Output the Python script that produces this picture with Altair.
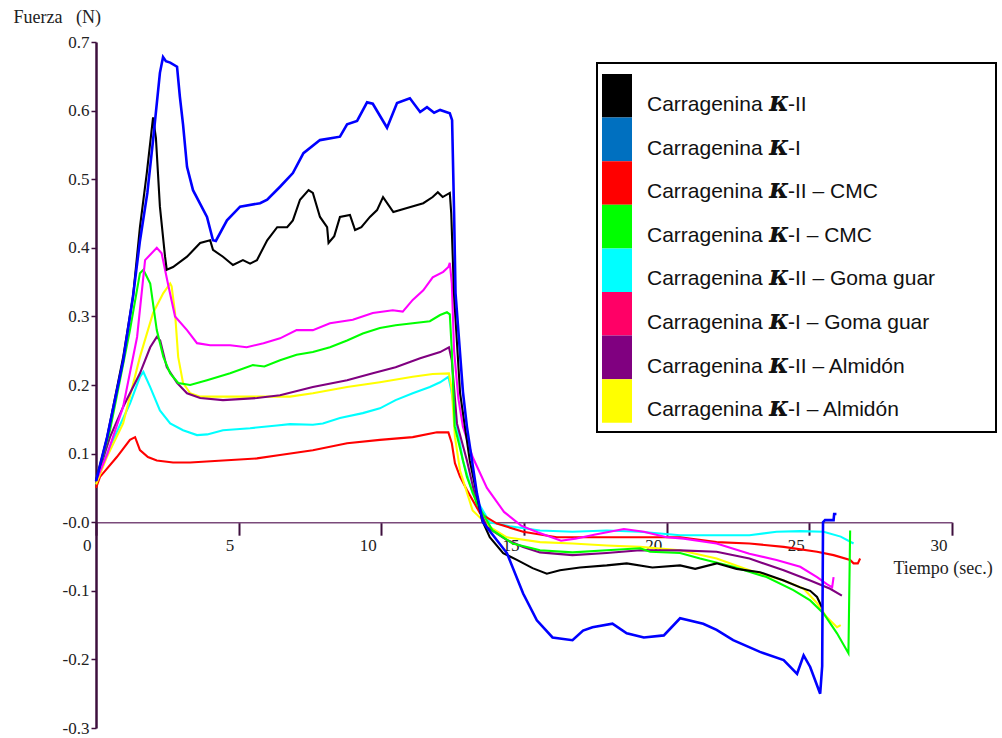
import altair as alt
import pandas as pd

# Series names and colours
SERIES = [
    "Carragenina κ-II",
    "Carragenina κ-I",
    "Carragenina κ-II – CMC",
    "Carragenina κ-I – CMC",
    "Carragenina κ-II – Goma guar",
    "Carragenina κ-I – Goma guar",
    "Carragenina κ-II – Almidón",
    "Carragenina κ-I – Almidón",
]
LINE_COLORS = ["#000000", "#0000ff", "#ff0000", "#00ff00",
               "#00ffff", "#ff00ff", "#800080", "#ffff00"]
SWATCH_COLORS = ["#000000", "#0070c0", "#ff0000", "#00ff00",
                 "#00ffff", "#ff0066", "#800080", "#ffff00"]
LEGEND_SUFFIX = ["-II", "-I", "-II – CMC", "-I – CMC",
                 "-II – Goma guar", "-I – Goma guar",
                 "-II – Almidón", "-I – Almidón"]

X_TICKS = [0, 5, 10, 15, 20, 25, 30]
Y_TICKS = [-0.3, -0.2, -0.1, 0.0, 0.1, 0.2, 0.3, 0.4, 0.5, 0.6, 0.7]

# Force (N) against time (s), one list of (t, F) per sample
K2 = [(0, 0.06), (0.39, 0.124), (0.95, 0.24), (1.3, 0.33), (1.54, 0.43), (1.78, 0.509),
      (2.0, 0.59), (2.1, 0.56), (2.24, 0.46), (2.42, 0.387), (2.48, 0.368), (2.7, 0.372),
      (3.19, 0.387), (3.65, 0.407), (4.0, 0.411), (4.1, 0.397), (4.45, 0.387), (4.8, 0.375),
      (5.15, 0.382), (5.4, 0.377), (5.64, 0.382), (6.0, 0.411), (6.35, 0.43), (6.7, 0.43),
      (6.9, 0.44), (7.15, 0.47), (7.45, 0.484), (7.6, 0.48), (7.85, 0.445), (8.1, 0.43),
      (8.15, 0.407), (8.35, 0.417), (8.55, 0.445), (8.9, 0.448), (9.08, 0.426), (9.3, 0.43),
      (9.6, 0.445), (9.85, 0.455), (10.06, 0.474), (10.42, 0.452), (10.9, 0.458),
      (11.47, 0.465), (11.8, 0.474), (11.98, 0.481), (12.15, 0.474), (12.4, 0.48),
      (12.45, 0.45), (12.55, 0.33), (12.76, 0.188), (13.1, 0.09), (13.53, 0.003),
      (13.8, -0.022), (14.27, -0.045), (14.75, -0.055), (15.3, -0.067), (15.8, -0.075),
      (16.26, -0.07), (16.96, -0.066), (17.9, -0.063), (18.6, -0.06), (19.5, -0.066),
      (20.47, -0.063), (21.0, -0.068), (21.75, -0.06), (22.45, -0.068), (23.27, -0.073),
      (24.1, -0.085), (24.68, -0.095), (25.03, -0.1), (25.27, -0.109), (25.44, -0.124)]

K1 = [(0, 0.06), (0.39, 0.124), (0.95, 0.235), (1.3, 0.33), (1.54, 0.41), (1.8, 0.48),
      (2.0, 0.557), (2.24, 0.655), (2.35, 0.678), (2.45, 0.672), (2.6, 0.67), (2.84, 0.664),
      (2.94, 0.62), (3.05, 0.58), (3.19, 0.518), (3.4, 0.484), (3.89, 0.445), (4.1, 0.411),
      (4.2, 0.41), (4.59, 0.44), (5.05, 0.46), (5.75, 0.465), (6.0, 0.47), (6.45, 0.489),
      (6.9, 0.509), (7.27, 0.538), (7.85, 0.557), (8.55, 0.562), (8.8, 0.58), (9.15, 0.585),
      (9.5, 0.612), (9.7, 0.61), (10.2, 0.575), (10.55, 0.611), (11.0, 0.618), (11.36, 0.598),
      (11.6, 0.605), (11.85, 0.597), (12.06, 0.601), (12.4, 0.596), (12.48, 0.586),
      (12.55, 0.45), (12.6, 0.334), (12.86, 0.19), (13.0, 0.139), (13.35, 0.042),
      (13.56, 0.0), (14.4, -0.045), (14.97, -0.104), (15.45, -0.143), (16.0, -0.168),
      (16.7, -0.172), (17.07, -0.158), (17.4, -0.153), (18.1, -0.148), (18.6, -0.162),
      (19.2, -0.168), (19.9, -0.165), (20.47, -0.14), (21.28, -0.148), (21.75, -0.157),
      (22.33, -0.172), (23.27, -0.189), (24.1, -0.201), (24.57, -0.221), (24.8, -0.194),
      (25.03, -0.211), (25.38, -0.25), (25.45, -0.21), (25.48, 0.0), (25.55, 0.003),
      (25.85, 0.003), (25.87, 0.012), (25.95, 0.012)]

K2_CMC = [(0, 0.05), (0.14, 0.066), (0.73, 0.095), (1.19, 0.12), (1.37, 0.124), (1.54, 0.105),
          (1.82, 0.095), (2.13, 0.09), (2.7, 0.087), (3.3, 0.087), (4.45, 0.09), (5.64, 0.093),
          (6.45, 0.098), (7.6, 0.105), (8.8, 0.115), (9.95, 0.12), (11.1, 0.124),
          (11.95, 0.131), (12.35, 0.131), (12.47, 0.115), (12.58, 0.086), (12.76, 0.066),
          (13.0, 0.047), (13.46, 0.013), (14.05, -0.002), (14.97, -0.014), (16.15, -0.022),
          (17.3, -0.022), (19.07, -0.022), (20.47, -0.022), (21.75, -0.029), (22.9, -0.031),
          (24.1, -0.036), (25.27, -0.043), (25.85, -0.048), (26.43, -0.055), (26.55, -0.06),
          (26.7, -0.06), (26.78, -0.053)]

K1_CMC = [(0, 0.06), (0.49, 0.134), (1.19, 0.28), (1.54, 0.363), (1.66, 0.368), (1.9, 0.348),
          (2.13, 0.28), (2.36, 0.241), (2.6, 0.217), (2.88, 0.203), (3.3, 0.2), (3.89, 0.207),
          (4.7, 0.217), (5.5, 0.229), (5.9, 0.227), (6.45, 0.236), (7.03, 0.244), (7.6, 0.248),
          (8.2, 0.255), (8.8, 0.265), (9.35, 0.275), (9.95, 0.283), (10.5, 0.287), (11.1, 0.29),
          (11.7, 0.293), (12.06, 0.302), (12.3, 0.306), (12.4, 0.303), (12.47, 0.25),
          (12.57, 0.14), (13.0, 0.066), (13.35, 0.027), (13.9, -0.012), (14.6, -0.031),
          (15.56, -0.041), (16.7, -0.044), (17.9, -0.041), (19.07, -0.038), (19.42, -0.043),
          (20.47, -0.045), (21.17, -0.053), (22.33, -0.065), (23.5, -0.08), (24.44, -0.099),
          (25.03, -0.114), (25.5, -0.133), (25.97, -0.162), (26.37, -0.191), (26.43, -0.012)]

K2_GUAR = [(0, 0.06), (0.49, 0.11), (1.19, 0.173), (1.54, 0.212), (1.66, 0.219), (1.9, 0.197),
           (2.24, 0.163), (2.6, 0.144), (3.05, 0.134), (3.54, 0.127), (3.9, 0.128),
           (4.45, 0.134), (5.4, 0.137), (6.34, 0.141), (6.8, 0.143), (7.6, 0.142),
           (7.95, 0.144), (8.55, 0.152), (9.35, 0.159), (9.95, 0.166), (10.5, 0.178),
           (11.1, 0.188), (11.7, 0.197), (12.06, 0.204), (12.35, 0.212), (12.45, 0.193),
           (12.65, 0.139), (12.86, 0.09), (13.2, 0.042), (13.8, 0.0), (14.5, -0.006),
           (15.56, -0.012), (16.7, -0.014), (17.9, -0.012), (19.07, -0.014), (20.47, -0.019),
           (21.75, -0.019), (22.9, -0.019), (23.85, -0.014), (24.68, -0.013), (25.5, -0.014),
           (26.1, -0.021), (26.55, -0.031)]

K1_GUAR = [(0, 0.06), (0.4, 0.1), (0.95, 0.168), (1.44, 0.27), (1.72, 0.382), (2.13, 0.4),
           (2.3, 0.392), (2.52, 0.348), (2.77, 0.3), (3.19, 0.28), (3.54, 0.261), (4.0, 0.258),
           (4.7, 0.258), (5.28, 0.255), (5.87, 0.261), (6.45, 0.268), (7.03, 0.28), (7.6, 0.28),
           (8.2, 0.29), (9.0, 0.295), (9.7, 0.305), (10.4, 0.309), (10.75, 0.307), (11.1, 0.324),
           (11.47, 0.338), (11.8, 0.357), (12.17, 0.365), (12.35, 0.372), (12.4, 0.378),
           (12.47, 0.348), (12.55, 0.25), (12.7, 0.18), (12.86, 0.139), (13.2, 0.095),
           (13.7, 0.05), (14.3, 0.015), (14.9, -0.005), (15.5, -0.015), (16.3, -0.027),
           (16.8, -0.024), (17.5, -0.018), (18.5, -0.01), (19.2, -0.014), (20.0, -0.022),
           (20.6, -0.024), (21.75, -0.031), (22.9, -0.046), (23.85, -0.055), (24.68, -0.065),
           (25.27, -0.08), (25.6, -0.09), (25.8, -0.095), (25.85, -0.08)]

K2_ALM = [(0, 0.06), (0.49, 0.124), (0.95, 0.168), (1.54, 0.217), (1.9, 0.255), (2.13, 0.27),
          (2.25, 0.265), (2.48, 0.226), (2.84, 0.203), (3.19, 0.188), (3.65, 0.181),
          (4.45, 0.178), (5.64, 0.181), (6.45, 0.185), (7.6, 0.197), (8.8, 0.207),
          (9.7, 0.217), (10.5, 0.226), (11.36, 0.239), (12.06, 0.248), (12.37, 0.255),
          (12.47, 0.236), (12.65, 0.144), (13.0, 0.09), (13.35, 0.027), (13.7, -0.007),
          (14.4, -0.026), (14.97, -0.036), (15.56, -0.044), (16.7, -0.048), (17.9, -0.045),
          (19.07, -0.041), (20.47, -0.041), (21.75, -0.043), (22.9, -0.053), (24.1, -0.07),
          (25.03, -0.085), (25.73, -0.097), (26.14, -0.107)]

K1_ALM = [(0, 0.055), (0.38, 0.095), (0.95, 0.144), (1.54, 0.241), (2.0, 0.305), (2.36, 0.334),
          (2.6, 0.348), (2.65, 0.344), (2.77, 0.305), (2.88, 0.241), (3.05, 0.203),
          (3.3, 0.188), (3.65, 0.183), (4.45, 0.183), (5.64, 0.183), (6.8, 0.183), (7.6, 0.188),
          (8.8, 0.197), (9.95, 0.204), (11.1, 0.212), (11.8, 0.216), (12.37, 0.217),
          (12.47, 0.193), (12.58, 0.124), (12.76, 0.075), (13.2, 0.017), (13.8, -0.007),
          (14.4, -0.022), (15.56, -0.029), (16.7, -0.031), (17.9, -0.034), (19.07, -0.036),
          (20.47, -0.041), (21.75, -0.053), (22.9, -0.07), (24.1, -0.085), (24.8, -0.097),
          (25.27, -0.118), (25.6, -0.138), (25.97, -0.153), (26.1, -0.15)]

CURVES = [K2, K1, K2_CMC, K1_CMC, K2_GUAR, K1_GUAR, K2_ALM, K1_ALM]
DRAW_ORDER = [4, 2, 7, 6, 3, 5, 0, 1]

rows = []
for name, pts in zip(SERIES, CURVES):
    for i, (t, f) in enumerate(pts):
        rows.append({"serie": name, "t": t, "f": f, "i": i})
data = pd.DataFrame(rows)

W, H = 856, 686
SERIF = "Liberation Serif"
SANS = "Liberation Sans"
AXIS_DARK = "#3d0f3d"

x_enc = alt.X(
    "t:Q",
    scale=alt.Scale(domain=[0, 30], nice=False, zero=False),
    axis=alt.Axis(
        values=X_TICKS, grid=False, offset=-0.3 * H,
        domainColor="#7a4a7a", domainWidth=1.5,
        tickColor=AXIS_DARK, tickWidth=2, tickSize=13,
        labelFont=SERIF, labelFontSize=17, labelColor="#222222",
        labelAlign="right", labelOffset=-5, labelBaseline="alphabetic", labelPadding=15,
        labelFlush=False, labelOverlap=False,
        title="Tiempo (sec.)", titleFont=SERIF, titleFontSize=18,
        titleFontWeight="normal", titleColor="#222222",
        titleAlign="left", titleBaseline="alphabetic", titleX=797, titleY=51,
    ),
)
y_enc = alt.Y(
    "f:Q",
    scale=alt.Scale(domain=[-0.3, 0.7], nice=False, zero=False),
    axis=alt.Axis(
        values=Y_TICKS, grid=False,
        labelExpr="abs(datum.value) < 1e-9 ? '-0.0' : "
                  "replace(format(datum.value, '.1f'), '\u2212', '-')",
        domainColor=AXIS_DARK, domainWidth=2.5,
        tickColor=AXIS_DARK, tickWidth=1.5, tickSize=5,
        labelFont=SERIF, labelFontSize=17, labelColor="#222222", labelPadding=2,
        labelFlush=False, labelOverlap=False,
        title="Fuerza\u00a0\u00a0\u00a0(N)", titleFont=SERIF, titleFontSize=18,
        titleFontWeight="normal", titleColor="#222222", titleAngle=0,
        titleAlign="left", titleBaseline="alphabetic", titleX=-83, titleY=-20,
    ),
)

line_layers = []
for k in DRAW_ORDER:
    line_layers.append(
        alt.Chart(data)
        .transform_filter(alt.datum.serie == SERIES[k])
        .mark_line(color=LINE_COLORS[k], strokeWidth=2.6 if k == 1 else 2.1,
                   strokeJoin="miter", clip=False)
        .encode(x=x_enc, y=y_enc, order="i:Q")
    )

# Legend panel, laid out in pixels relative to the plot origin
ROW_H = 43.6
leg = pd.DataFrame({
    "fill": SWATCH_COLORS,
    "suffix": LEGEND_SUFFIX,
    "y0": [32 + ROW_H * r for r in range(8)],
    "y1": [32 + ROW_H * (r + 1) for r in range(8)],
    "yb": [69 + ROW_H * r for r in range(8)],
})
leg["word"] = "Carragenina"
leg["kappa"] = "κ"

box = alt.Chart(leg).mark_rect(fill="white", stroke="black", strokeWidth=2).encode(
    x=alt.value(501), x2=alt.value(900), y=alt.value(21), y2=alt.value(390)
).transform_filter("datum.fill == '#000000'")
swatches = alt.Chart(leg).mark_rect().encode(
    x=alt.value(506), x2=alt.value(536),
    y=alt.Y("y0:Q", scale=None), y2="y1:Q",
    color=alt.Color("fill:N", scale=None),
)
word = alt.Chart(leg).mark_text(align="left", baseline="alphabetic", font=SANS,
                                fontSize=21, color="#111111").encode(
    x=alt.value(551), y=alt.Y("yb:Q", scale=None), text="word:N")
kappa = alt.Chart(leg).mark_text(align="left", baseline="alphabetic", font="DejaVu Serif",
                                 fontSize=27, fontStyle="italic", fontWeight="bold",
                                 color="#111111").encode(
    x=alt.value(673), y=alt.Y("yb:Q", scale=None), text="kappa:N")
suffix = alt.Chart(leg).mark_text(align="left", baseline="alphabetic", font=SANS,
                                  fontSize=21, color="#111111").encode(
    x=alt.value(692), y=alt.Y("yb:Q", scale=None), text="suffix:N")

chart = alt.layer(*line_layers, box, swatches, word, kappa, suffix).properties(
    width=W, height=H,
    autosize=alt.AutoSizeParams(type="none"),
    padding={"left": 96, "top": 42, "right": 50, "bottom": 10},
    background="white",
).configure_view(stroke=None)

chart.save("out.html", embed_options={"renderer": "svg", "actions": False})
